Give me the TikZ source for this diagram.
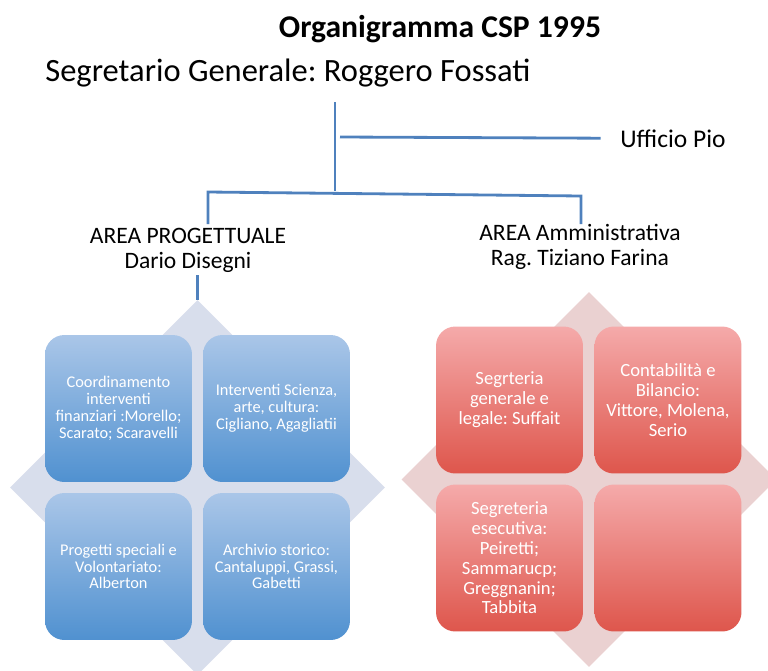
\documentclass[tikz,border=0pt]{standalone}
\usepackage{fontspec}
\setmainfont{Carlito}
\frenchspacing
\usetikzlibrary{shapes.geometric}
\definecolor{linecol}{RGB}{79,129,189}
\definecolor{bluediam}{RGB}{216,222,236}
\definecolor{bluetop}{RGB}{170,198,232}
\definecolor{bluebot}{RGB}{80,145,208}
\definecolor{reddiam}{RGB}{234,209,209}
\definecolor{redtop}{RGB}{245,170,170}
\definecolor{redbot}{RGB}{222,86,76}
\begin{document}
\begin{tikzpicture}[x=0.02cm, y=-0.02cm,
    conn/.style={draw=linecol, line width=1.6pt},
    diam/.style={diamond, inner sep=0pt, minimum width=7.5cm, minimum height=7.5cm, draw=none},
    box/.style={rounded corners=11pt, minimum width=2.94cm, minimum height=2.94cm, inner sep=2pt, align=center, text=white},
    bluebox/.style={box, top color=bluetop, bottom color=bluebot, font=\fontsize{9.3}{9.6}\selectfont},
    redbox/.style={box, top color=redtop, bottom color=redbot, font=\fontsize{10.6}{11.3}\selectfont}]
  \useasboundingbox (0,0) rectangle (768,670);

  % Titles
  \node[anchor=base, inner sep=0pt, font=\fontsize{18}{21}\selectfont\bfseries] (title) at (440,37) {Organigramma CSP 1995};
  \node[anchor=base west, inner sep=0pt, font=\fontsize{18.5}{21}\selectfont] (seg) at (45,81) {Segretario Generale: Roggero Fossati};
  \node[anchor=base west, inner sep=0pt, font=\fontsize{14.5}{17}\selectfont] (uff) at (620,147) {Ufficio Pio};

  % Areas
  \node[align=center, inner sep=0pt, font=\fontsize{13.4}{14.2}\selectfont] (areaP) at (188,250) {AREA PROGETTUALE\\Dario Disegni};
  \node[align=center, inner sep=0pt, font=\fontsize{13.4}{14.2}\selectfont] (areaA) at (580,247) {AREA Amministrativa\\Rag. Tiziano Farina};

  % Connectors
  \coordinate (vtop) at (335,102);
  \coordinate (vbot) at (335,191);
  \coordinate (ubr) at (340,137);
  \coordinate (lbar) at (208,192);
  \coordinate (rbar) at (581,196);
  \draw[conn] (vtop) -- (vbot);
  \draw[conn, shorten >=11pt] (ubr) -- (uff.west);
  \draw[conn] (lbar |- 0,224) -- (lbar) -- (rbar) -- (rbar |- 0,224);

  % Area progettuale
  \node[diam, fill=bluediam] (dP) at (197.5,487.5) {};
  \draw[conn] (dP.north |- 0,275) -- (dP.north);
  \node[bluebox] (coord) at (118.5,408.5) {Coordinamento\\interventi\\finanziari :Morello;\\Scarato; Scaravelli};
  \node[bluebox] (scienza) at (276.5,408.5) {Interventi Scienza,\\arte, cultura:\\Cigliano, Agagliatii};
  \node[bluebox] (progetti) at (118.5,566.5) {Progetti speciali e\\Volontariato:\\Alberton};
  \node[bluebox] (archivio) at (276.5,566.5) {Archivio storico:\\Cantaluppi, Grassi,\\Gabetti};

  % Area amministrativa
  \node[diam, fill=reddiam] (dA) at (589,479.5) {};
  \node[redbox] (legale) at (509.5,400) {Segrteria\\generale e\\legale: Suffait};
  \node[redbox] (contab) at (668,400) {Contabilità e\\Bilancio:\\Vittore, Molena,\\Serio};
  \node[redbox] (esecut) at (509.5,558) {Segreteria\\esecutiva:\\Peiretti;\\Sammarucp;\\Greggnanin;\\Tabbita};
  \node[redbox] (vuoto) at (668,558) {};
\end{tikzpicture}
\end{document}
